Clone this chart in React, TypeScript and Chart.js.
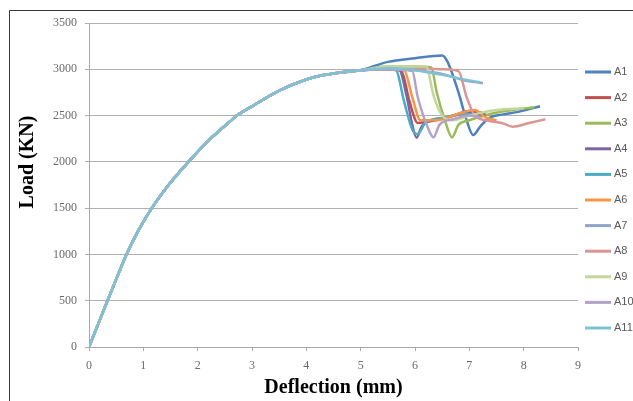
import React, { useEffect, useRef } from "react";
import { Chart, registerables } from "chart.js";

Chart.register(...registerables);

// ---- data ----
const seriesNames = ["A1", "A2", "A3", "A4", "A5", "A6", "A7", "A8", "A9", "A10", "A11"];
const seriesColors = [
  "#4F81BD", "#C0504D", "#9BBB59", "#8064A2", "#4BACC6", "#F79646",
  "#8EA4C8", "#D99694", "#C3D69B", "#B3A2C7", "#7FC1D6",
];

// common loading branch (deflection mm, load kN)
const baseDeflection = [0, 0.17, 0.34, 0.52, 0.69, 0.92, 1.155, 1.45, 1.83, 2.2, 2.6, 2.72, 3.0, 3.5, 4.0, 4.25, 4.5, 5.0];
const baseLoad = [0, 250, 500, 760, 1000, 1270, 1500, 1740, 2000, 2230, 2440, 2500, 2600, 2770, 2890, 2930, 2955, 2990];

// post-peak branches
const a1Deflection = [5.5, 6.0, 6.5, 6.6, 6.8, 6.95, 7.07, 7.2, 7.35, 7.6, 7.9, 8.1, 8.3];
const a1Load = [3080, 3120, 3150, 3080, 2750, 2450, 2290, 2380, 2470, 2510, 2540, 2570, 2600];
const a2Deflection = [5.5, 5.75, 5.9, 6.05, 6.3, 6.7, 7.0, 7.3];
const a2Load = [3000, 2980, 2650, 2420, 2440, 2500, 2550, 2520];
const a3Deflection = [5.5, 6.0, 6.3, 6.4, 6.55, 6.68, 6.8, 7.0, 7.4, 7.8, 8.2];
const a3Load = [3030, 3030, 3020, 2750, 2450, 2265, 2400, 2450, 2520, 2560, 2590];
const a4Deflection = [5.5, 5.7, 5.85, 5.95, 6.03, 6.12, 6.3, 6.6, 7.0, 7.3];
const a4Load = [3020, 3010, 2700, 2400, 2260, 2380, 2450, 2480, 2530, 2500];
const a5Deflection = [5.5, 5.65, 5.8, 5.95, 6.05, 6.2, 6.5, 6.9, 7.1];
const a5Load = [3000, 2990, 2650, 2350, 2300, 2430, 2470, 2520, 2500];
const a6Deflection = [5.5, 5.8, 5.95, 6.1, 6.4, 6.8, 7.1, 7.3, 7.5];
const a6Load = [3000, 2990, 2700, 2450, 2450, 2520, 2560, 2480, 2450];
const a7Deflection = [5.5, 6.0, 6.5, 6.9, 7.25];
const a7Load = [3010, 2990, 2950, 2880, 2850];
const a8Deflection = [5.5, 6.0, 6.5, 6.8, 6.95, 7.1, 7.3, 7.6, 7.8, 8.1, 8.4];
const a8Load = [3010, 3010, 3000, 2980, 2700, 2500, 2450, 2420, 2380, 2420, 2460];
const a9Deflection = [5.5, 6.2, 6.35, 6.5, 6.7, 7.0, 7.5, 8.0];
const a9Load = [3030, 3030, 2700, 2500, 2450, 2500, 2560, 2580];
const a10Deflection = [5.5, 5.95, 6.05, 6.25, 6.34, 6.45, 6.7, 7.0, 7.2];
const a10Load = [3000, 2980, 2700, 2350, 2265, 2400, 2460, 2500, 2480];
const a11Deflection = [5.5, 6.0, 6.5, 7.0, 7.2];
const a11Load = [3010, 2990, 2940, 2880, 2860];

const tailDeflections = [a1Deflection, a2Deflection, a3Deflection, a4Deflection, a5Deflection, a6Deflection, a7Deflection, a8Deflection, a9Deflection, a10Deflection, a11Deflection];
const tailLoads = [a1Load, a2Load, a3Load, a4Load, a5Load, a6Load, a7Load, a8Load, a9Load, a10Load, a11Load];

const xTickValues = [0, 1, 2, 3, 4, 5, 6, 7, 8, 9];
const yTickValues = [0, 500, 1000, 1500, 2000, 2500, 3000, 3500];

const xTitle = "Deflection (mm)";
const yTitle = "Load (KN)";

function buildPoints(i: number) {
  const pts: { x: number; y: number }[] = [];
  baseDeflection.forEach((d, k) => pts.push({ x: d, y: baseLoad[k] }));
  tailDeflections[i].forEach((d, k) => pts.push({ x: d, y: tailLoads[i][k] }));
  return pts;
}

const framePlugin = {
  id: "frame",
  beforeDraw(chart: any) {
    const ctx = chart.ctx;
    ctx.save();
    ctx.fillStyle = "#ffffff";
    ctx.fillRect(0, 0, chart.width, chart.height);
    ctx.strokeStyle = "#3a3a3a";
    ctx.lineWidth = 1;
    ctx.beginPath();
    ctx.moveTo(9.5, chart.height);
    ctx.lineTo(9.5, 10.5);
    ctx.lineTo(chart.width, 10.5);
    ctx.stroke();
    ctx.restore();
  },
};

const yTitlePlugin = {
  id: "yTitleCustom",
  afterDraw(chart: any) {
    const ctx = chart.ctx;
    ctx.save();
    ctx.translate(28, 162);
    ctx.rotate(-Math.PI / 2);
    ctx.font = "bold 20px 'Liberation Serif'";
    ctx.fillStyle = "#000000";
    ctx.textAlign = "center";
    ctx.textBaseline = "middle";
    ctx.fillText(yTitle, 0, 0);
    ctx.restore();
  },
};

const legendPlugin = {
  id: "sideLegend",
  afterDraw(chart: any) {
    const ctx = chart.ctx;
    ctx.save();
    chart.data.datasets.forEach((ds: any, i: number) => {
      const y = 72 + i * 25.6;
      ctx.strokeStyle = ds.borderColor;
      ctx.lineWidth = 3;
      ctx.beginPath();
      ctx.moveTo(585, y);
      ctx.lineTo(611, y);
      ctx.stroke();
      ctx.font = "11px 'Liberation Sans'";
      ctx.fillStyle = "#595959";
      ctx.textAlign = "left";
      ctx.textBaseline = "middle";
      ctx.fillText(ds.label, 614, y);
    });
    ctx.restore();
  },
};

export default function App() {
  const ref = useRef<HTMLCanvasElement | null>(null);
  useEffect(() => {
    if (!ref.current) return;
    const chart = new Chart(ref.current, {
      type: "line",
      data: {
        datasets: seriesNames.map((name, i) => ({
          label: name,
          data: buildPoints(i),
          borderColor: seriesColors[i],
          backgroundColor: seriesColors[i],
          borderWidth: 2.5,
          pointRadius: 0,
          fill: false,
          cubicInterpolationMode: "monotone" as const,
          order: seriesNames.length - i,
        })),
      },
      options: {
        animation: false,
        responsive: false,
        devicePixelRatio: 1,
        layout: { padding: { top: 23, right: 55, left: 0, bottom: 0 } },
        plugins: { legend: { display: false }, tooltip: { enabled: false } },
        scales: {
          x: {
            type: "linear",
            min: 0,
            max: 9,
            afterBuildTicks: (scale: any) => {
              scale.ticks = xTickValues.map((v) => ({ value: v }));
            },
            afterFit: (scale: any) => {
              scale.height = 54;
            },
            ticks: {
              color: "#6b6b6b",
              font: { family: "'Liberation Serif'", size: 12 },
              padding: 8,
              maxRotation: 0,
              callback: (v: any) => String(v),
            },
            grid: {
              drawOnChartArea: false,
              drawTicks: true,
              tickLength: 4,
              color: "#a8a8a8",
            },
            border: { display: true, color: "#a8a8a8" },
            title: {
              display: true,
              text: xTitle,
              color: "#000000",
              font: { family: "'Liberation Serif'", size: 20, weight: "bold" },
              padding: { top: 0, bottom: 1 },
            },
          },
          y: {
            type: "linear",
            min: 0,
            max: 3500,
            afterBuildTicks: (scale: any) => {
              scale.ticks = yTickValues.map((v) => ({ value: v }));
            },
            afterFit: (scale: any) => {
              scale.width = 89;
            },
            ticks: {
              color: "#6b6b6b",
              font: { family: "'Liberation Serif'", size: 12 },
              padding: 8,
              callback: (v: any) => String(v),
            },
            grid: {
              drawOnChartArea: true,
              drawTicks: true,
              tickLength: 4,
              color: "#b0b0b0",
            },
            border: { display: true, color: "#a8a8a8" },
          },
        },
      },
      plugins: [framePlugin, yTitlePlugin, legendPlugin],
    });
    return () => chart.destroy();
  }, []);
  return (
    <div style={{ position: "fixed", left: 0, top: 0, width: 633, height: 401, background: "#fff" }}>
      <canvas ref={ref} width={633} height={401} style={{ display: "block", width: 633, height: 401 }} />
    </div>
  );
}
